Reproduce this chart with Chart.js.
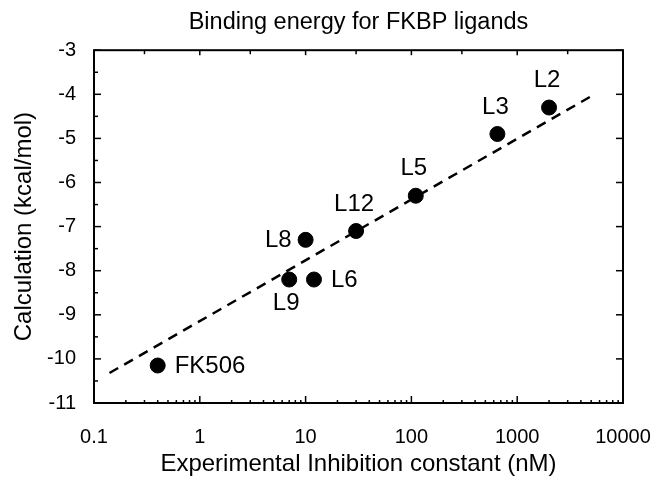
<!DOCTYPE html>
<html>
<head>
<meta charset="utf-8">
<script src="https://cdn.jsdelivr.net/npm/chart.js@4/dist/chart.umd.min.js"></script>
<style>
  html, body { margin: 0; padding: 0; background: #fff; }
</style>
</head>
<body>
<canvas id="chart" width="657" height="479"></canvas>
<script>
// ligand data
const ligandNames = ['FK506', 'L9', 'L6', 'L8', 'L12', 'L5', 'L3', 'L2'];
const inhibitionNM = [0.4, 7, 12, 10, 30, 110, 650, 2000];
const bindingEnergy = [-10.15, -8.2, -8.2, -7.3, -7.1, -6.3, -4.9, -4.3];

// dashed fit line end points
const fitX = [0.14, 5200];
const fitY = [-10.32, -4.02];

// tick labels
const xDecades = [0.1, 1, 10, 100, 1000, 10000];
const yTickValues = [-11, -10, -9, -8, -7, -6, -5, -4, -3];

// where each ligand name sits relative to its dot
const labelSide = {
  FK506: 'right', L9: 'below', L6: 'right', L8: 'left',
  L12: 'above', L5: 'above', L3: 'above', L2: 'above'
};

const FONT = 'Liberation Sans, Arial, Helvetica, sans-serif';

const framePlugin = {
  id: 'frame',
  afterDatasetsDraw(chart) {
    const {ctx, chartArea: a, scales} = chart;
    const xs = scales.x, ys = scales.y;
    ctx.save();
    ctx.strokeStyle = '#000';
    ctx.lineWidth = 2;
    ctx.strokeRect(a.left, a.top, a.right - a.left, a.bottom - a.top);

    ctx.lineWidth = 1.5;
    const tick = (x1, y1, x2, y2) => {
      ctx.beginPath(); ctx.moveTo(x1, y1); ctx.lineTo(x2, y2); ctx.stroke();
    };
    // bottom: decades long, 2..9 short ; top: 1 and 3 only
    xDecades.forEach((d, i) => {
      const px = xs.getPixelForValue(d);
      tick(px, a.bottom, px, a.bottom - 7);
      tick(px, a.top, px, a.top + 5);
      if (i === xDecades.length - 1) return;
      for (let m = 2; m <= 9; m++) {
        const mx = xs.getPixelForValue(d * m);
        tick(mx, a.bottom, mx, a.bottom - 3);
        if (m === 3) tick(mx, a.top, mx, a.top + 4);
      }
    });
    // left: integers + halves ; right: integers
    yTickValues.forEach((v, i) => {
      const py = ys.getPixelForValue(v);
      tick(a.left, py, a.left + 7, py);
      tick(a.right, py, a.right - 7, py);
      if (i < yTickValues.length - 1) {
        const hy = ys.getPixelForValue(v + 0.5);
        tick(a.left, hy, a.left + 4, hy);
      }
    });

    // ligand names
    ctx.fillStyle = '#000';
    ctx.font = '24px ' + FONT;
    ligandNames.forEach((name, i) => {
      const px = xs.getPixelForValue(inhibitionNM[i]);
      const py = ys.getPixelForValue(bindingEnergy[i]);
      const side = labelSide[name];
      ctx.textBaseline = 'middle';
      if (side === 'above') {
        ctx.textAlign = 'center';
        ctx.fillText(name, px - 2, py - 27);
      } else if (side === 'below') {
        ctx.textAlign = 'center';
        ctx.fillText(name, px - 3, py + 24);
      } else if (side === 'left') {
        ctx.textAlign = 'right';
        ctx.fillText(name, px - 14, py + 1);
      } else {
        ctx.textAlign = 'left';
        ctx.fillText(name, px + 17, py + 1);
      }
    });
    ctx.restore();
  }
};

new Chart(document.getElementById('chart'), {
  type: 'scatter',
  data: {
    datasets: [
      {
        label: 'fit',
        data: fitX.map((x, i) => ({x: x, y: fitY[i]})),
        showLine: true,
        borderColor: '#000',
        borderWidth: 2.5,
        borderDash: [10, 7],
        pointRadius: 0,
        fill: false
      },
      {
        label: 'ligands',
        data: inhibitionNM.map((x, i) => ({x: x, y: bindingEnergy[i]})),
        backgroundColor: '#000',
        borderColor: '#000',
        pointRadius: 7.5,
        pointHoverRadius: 7.5
      }
    ]
  },
  options: {
    responsive: false,
    animation: false,
    layout: { padding: { top: 0, right: 34, bottom: 0, left: 0 } },
    plugins: {
      legend: { display: false },
      tooltip: { enabled: false },
      title: {
        display: true,
        fullSize: false,
        text: 'Binding energy for FKBP ligands',
        color: '#000',
        font: { family: FONT, size: 23.5, weight: 'normal' },
        padding: { top: 8, bottom: 14 }
      }
    },
    scales: {
      x: {
        type: 'logarithmic',
        min: 0.1,
        max: 10000,
        grid: { display: false },
        border: { display: false },
        afterBuildTicks: (s) => { s.ticks = xDecades.map(v => ({value: v})); },
        afterFit: (s) => { s.height = 76; s.paddingLeft = 0; s.paddingRight = 0; },
        ticks: {
          color: '#000',
          font: { family: FONT, size: 20 },
          padding: 14,
          maxRotation: 0,
          autoSkip: false,
          callback: (v) => String(v)
        },
        title: {
          display: true,
          text: 'Experimental Inhibition constant (nM)',
          color: '#000',
          font: { family: FONT, size: 24 },
          padding: { top: 0, bottom: 0 }
        }
      },
      y: {
        min: -11,
        max: -3,
        grid: { display: false },
        border: { display: false },
        afterBuildTicks: (s) => { s.ticks = yTickValues.map(v => ({value: v})); },
        afterFit: (s) => { s.width = 94; s.paddingTop = 0; s.paddingBottom = 0; },
        ticks: {
          color: '#000',
          font: { family: FONT, size: 20 },
          padding: 10
        },
        title: {
          display: true,
          text: 'Calculation (kcal/mol)',
          color: '#000',
          font: { family: FONT, size: 24 },
          padding: { top: 10, bottom: 0 }
        }
      }
    }
  },
  plugins: [framePlugin]
});
</script>
</body>
</html>
